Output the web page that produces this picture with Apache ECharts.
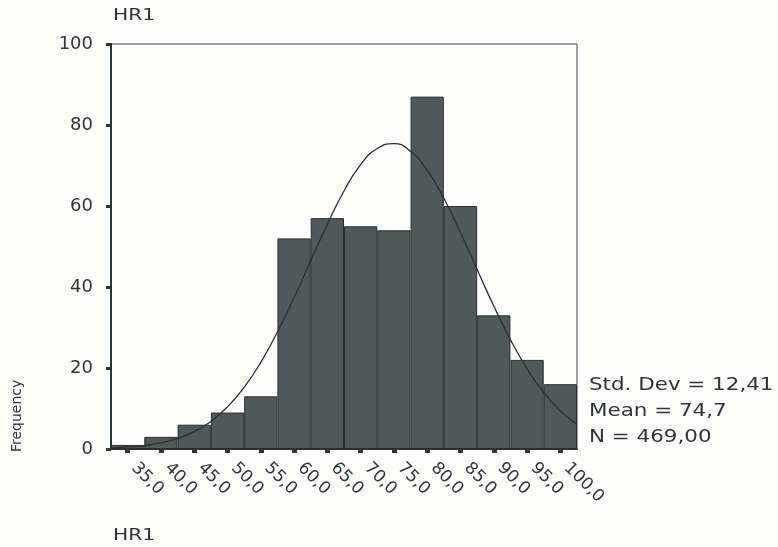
<!DOCTYPE html>
<html>
<head>
<meta charset="utf-8">
<title>HR1</title>
<script src="https://cdn.jsdelivr.net/npm/echarts@6/dist/echarts.min.js"></script>
<style>
  html, body { margin: 0; padding: 0; background: #fdfdfc; }
  #chart { width: 778px; height: 547px; }
</style>
</head>
<body>
<div id="chart"></div>
<script>
// Histogram bins of HR1 (bin centres, width 5)
const binLabels = ['35,0', '40,0', '45,0', '50,0', '55,0', '60,0', '65,0',
                   '70,0', '75,0', '80,0', '85,0', '90,0', '95,0', '100,0'];
const frequencies = [1, 3, 6, 9, 13, 52, 57, 55, 54, 87, 60, 33, 22, 16];

// Fitted normal curve (x = HR1 value, y = expected frequency per bin)
const curveX = [32.5, 35, 37.5, 40, 42.5, 45, 47.5, 50, 52.5, 55, 57.5, 60, 62.5, 65,
                67.5, 70, 72.5, 75, 77.5, 80, 82.5, 85, 87.5, 90, 92.5, 95, 97.5, 100, 102.5];
const curveY = [0.2, 0.5, 0.8, 1.5, 2.6, 4.3, 6.8, 10.4, 15.2, 21.4, 28.9, 37.4, 46.5, 55.5,
                63.7, 70.2, 74.2, 75.4, 73.5, 68.8, 61.9, 53.4, 44.3, 35.3, 27.0, 19.8, 13.9, 9.4, 6.1];

const yTicks = [0, 20, 40, 60, 80, 100];
const statLines = ['Std. Dev = 12,41', 'Mean = 74,7', 'N = 469,00'];

const FONT = 'DejaVu Sans';
const INK = '#2f3535';

const chart = echarts.init(document.getElementById('chart'), null, { renderer: 'canvas' });

const curveData = curveX.map((x, i) => [x, curveY[i]]);

// Plain text placed by its top-left corner, widened a little
function wideText(text, x, y, size, sx) {
  return {
    type: 'text', x: x, y: y, scaleX: sx,
    style: { text: text, font: size + 'px "' + FONT + '"', fill: INK, textAlign: 'left', textVerticalAlign: 'top' }
  };
}

chart.setOption({
  backgroundColor: '#fdfdfc',
  animation: false,
  grid: {
    left: 111, right: 201, top: 44, bottom: 98,
    show: true, borderColor: '#3a4242', borderWidth: 1, backgroundColor: 'transparent'
  },
  xAxis: [
    {
      type: 'category',
      data: binLabels,
      boundaryGap: true,
      axisLine: { show: true, lineStyle: { color: '#2b3232', width: 2 } },
      axisTick: { show: true, alignWithLabel: true, length: 4, lineStyle: { color: '#2f3535', width: 5 } },
      axisLabel: {
        rotate: -45, margin: 10, padding: [0, 0, 0, 9], color: INK,
        fontFamily: FONT, fontSize: 17
      },
      splitLine: { show: false }
    },
    {
      type: 'value',
      min: 32.5, max: 102.5,
      show: false
    }
  ],
  yAxis: {
    type: 'value',
    min: 0, max: 100, interval: 20,
    axisLine: { show: true, lineStyle: { color: '#2b3232', width: 2 } },
    axisTick: { show: true, inside: false, length: 5, lineStyle: { color: '#2f3535', width: 3 } },
    axisLabel: {
      margin: 18, color: INK, fontFamily: FONT, fontSize: 18,
      formatter: v => (yTicks.includes(v) ? String(v) : '')
    },
    splitLine: { show: false }
  },
  series: [
    {
      type: 'bar',
      xAxisIndex: 0,
      data: frequencies,
      barWidth: '100%',
      barCategoryGap: 0,
      itemStyle: { color: '#4f5959', borderColor: '#283030', borderWidth: 1 },
      z: 2
    },
    {
      type: 'line',
      xAxisIndex: 1,
      data: curveData,
      smooth: true,
      showSymbol: false,
      lineStyle: { color: '#2a2f2f', width: 1.3 },
      z: 3
    }
  ],
  graphic: [
    wideText('HR1', 113, 9, 15, 1.35),
    wideText('HR1', 113, 529, 15, 1.35),
    {
      type: 'text', x: 10, y: 452, rotation: Math.PI / 2,
      style: { text: 'Frequency', font: '14px "' + FONT + '"', fill: INK, textAlign: 'left', textVerticalAlign: 'top' }
    },
    ...statLines.map((t, i) => wideText(t, 589, 377 + i * 26, 17, 1.26))
  ]
});
</script>
</body>
</html>
